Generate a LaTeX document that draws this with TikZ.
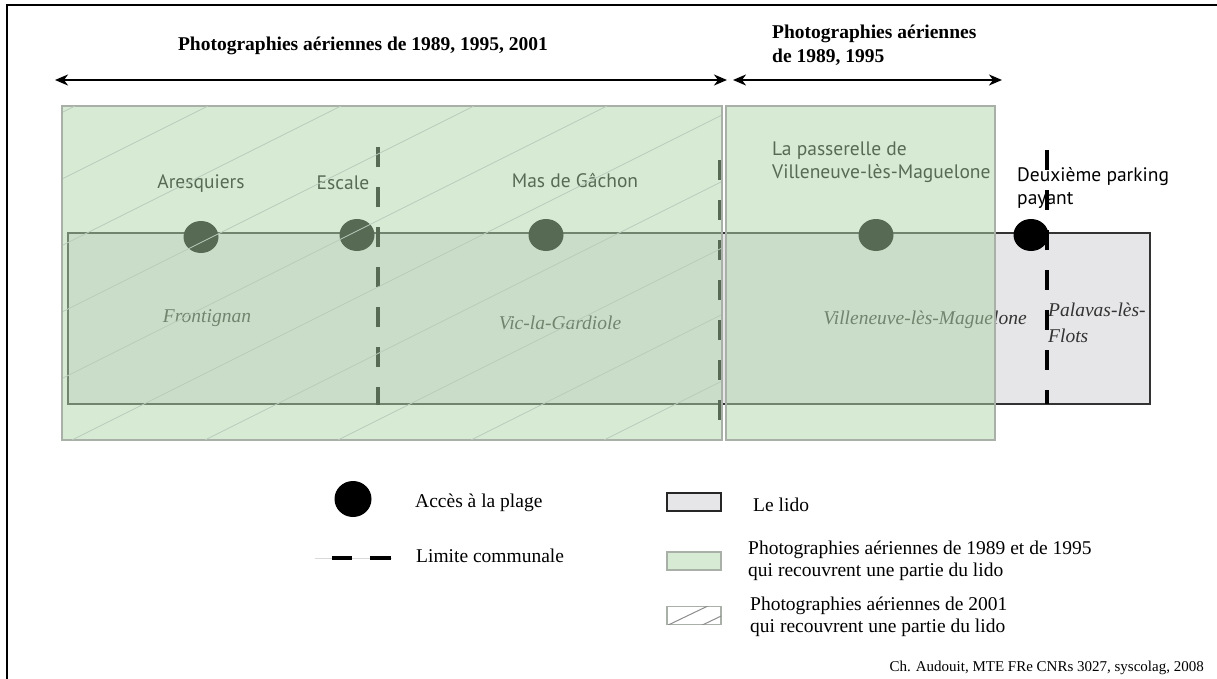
\documentclass[tikz,border=0pt]{standalone}
\usepackage{fontspec}
\setmainfont{Liberation Serif}
\newfontfamily\sansf{PT Sans}
\usetikzlibrary{arrows.meta,shapes.geometric}
\definecolor{photogreen}{RGB}{173,213,169}
\definecolor{lidogray}{RGB}{230,230,232}
\definecolor{framegray}{RGB}{168,176,168}
\definecolor{hatchgray}{RGB}{186,204,186}
\definecolor{legendgreen}{RGB}{214,234,212}
\tikzset{
  dotnode/.style={ellipse, fill=black, minimum width=35pt, minimum height=32pt, inner sep=0pt},
  comm/.style={black, line width=4pt, dash pattern=on 20pt off 20pt},
  sanslbl/.style={font=\sansf\fontsize{19.5}{23}\selectfont, inner sep=0pt, text=black},
  itallbl/.style={font=\itshape\fontsize{19.5}{26}\selectfont, inner sep=0pt, text=black!80},
  titlelbl/.style={font=\bfseries\fontsize{19.5}{24}\selectfont, inner sep=0pt},
  legtext/.style={font=\fontsize{19.5}{22}\selectfont, anchor=west, inner sep=0pt, align=left},
  dblarrow/.style={{Stealth[length=13pt,width=11pt,inset=4pt]}-{Stealth[length=13pt,width=11pt,inset=4pt]}, line width=1.8pt},
  photo/.style={fill=photogreen, fill opacity=0.5, draw=framegray, line width=2pt},
  legbox/.style={minimum width=54pt, minimum height=18pt, inner sep=0pt, line width=1.5pt}
}
\begin{document}
\begin{tikzpicture}[x=1pt,y=-1pt]
\useasboundingbox (0,0) rectangle (1217,679);
% frame
\draw[line width=2.2pt] (7,680) -- (7,5) -- (1218,5);
% lido
\node[draw=black!80, fill=lidogray, line width=2pt, minimum width=1082pt, minimum height=171pt, inner sep=0pt] (lido) at (609,318.5) {};
% labels
\node[sanslbl] (aresq) at (201,184) {Aresquiers};
\node[sanslbl] (escale) at (343,183) {Escale};
\node[sanslbl] (masg) at (575,180) {Mas de Gâchon};
\node[sanslbl, anchor=west, align=left] (passer) at (772,162) {La passerelle de\\Villeneuve-lès-Maguelone};
\node[sanslbl, anchor=west, align=left] (parking) at (1017,188) {Deuxième parking\\payant};
\node[itallbl] (front) at (207,318) {Frontignan};
\node[itallbl] (vic) at (560,323) {Vic-la-Gardiole};
\node[itallbl] (vill) at (925,320) {Villeneuve-lès-Maguelone};
\node[itallbl, anchor=west, align=left] (palav) at (1048,323) {Palavas-lès-\\Flots};
% dots
\node[dotnode] (d1) at (201,237) {};
\node[dotnode] (d2) at (357,235) {};
\node[dotnode] (d3) at (546,235) {};
\node[dotnode] (d4) at (876,235) {};
\node[dotnode] (d5) at (1031,235) {};
% communal limits
\coordinate (l1t) at (378,147); \coordinate (l1b) at (378,405);
\coordinate (l2t) at (720,160); \coordinate (l2b) at (720,420);
\coordinate (l3t) at (1047,150); \coordinate (l3b) at (1047,404);
\draw[comm] (l1t) -- (l1b);
\draw[comm] (l2t) -- (l2b);
\draw[comm] (l3t) -- (l3b);
% aerial photographs overlays
\node[photo, minimum width=660pt, minimum height=334pt, inner sep=0pt] (ph1) at (392,273) {};
\node[photo, minimum width=269pt, minimum height=334pt, inner sep=0pt] (ph2) at (860.5,273) {};
\begin{scope}
\clip (63,107) rectangle (721,439);
\foreach \k in {0,...,10} {
  \draw[hatchgray, line width=0.8pt] ({75+133*\k},106) -- ({75+133*\k-668},440);
}
\end{scope}
% arrows and titles
\coordinate (a1l) at (55,80); \coordinate (a1r) at (727,80);
\coordinate (a2l) at (733,80); \coordinate (a2r) at (1002,80);
\draw[dblarrow] (a1l) -- (a1r);
\draw[dblarrow] (a2l) -- (a2r);
\node[titlelbl] (t1) at (363,46) {Photographies aériennes de 1989, 1995, 2001};
\node[titlelbl, anchor=west, align=left] (t2) at (772,45) {Photographies aériennes\\de 1989, 1995};
% legend
\node[dotnode, minimum width=37pt, minimum height=36pt] (legdot) at (353,499) {};
\node[legtext] (legacc) at (415,503) {Accès à la plage};
\coordinate (ll1) at (315,558); \coordinate (ll2) at (392,558);
\coordinate (ld1a) at (332,558); \coordinate (ld1b) at (352,558);
\coordinate (ld2a) at (370,558); \coordinate (ld2b) at (391,558);
\draw[black!15, line width=0.6pt] (ll1) -- (ll2);
\draw[line width=4pt] (ld1a) -- (ld1b);
\draw[line width=4pt] (ld2a) -- (ld2b);
\node[legtext] (leglim) at (416,556) {Limite communale};
\node[legbox, draw=black!85, fill=lidogray] (boxlido) at (694,502) {};
\node[legtext] (leglido) at (753,505) {Le lido};
\node[legbox, draw=framegray, fill=legendgreen] (boxgreen) at (694,561) {};
\node[legtext] (leggreen) at (748,561) {Photographies aériennes de 1989 et de 1995\\qui recouvrent une partie du lido};
\node[legbox, draw=framegray] (boxhatch) at (694,615.5) {};
\begin{scope}
\clip (667,606.5) rectangle (721,624.5);
\draw[black!45, line width=1pt] (662,628) -- (712,604);
\draw[black!45, line width=1pt] (692,630) -- (742,606);
\end{scope}
\node[legtext] (leghatch) at (750,617) {Photographies aériennes de 2001\\qui recouvrent une partie du lido};
\node[font=\fontsize{15}{18}\selectfont, anchor=east, inner sep=0pt] (credit) at (1204,668) {Ch. Audouit, MTE FRe CNRs 3027, syscolag, 2008};
\end{tikzpicture}
\end{document}
